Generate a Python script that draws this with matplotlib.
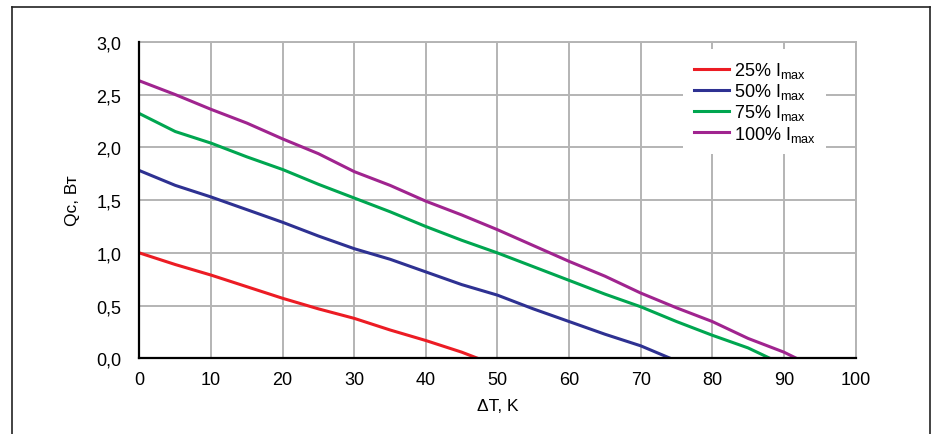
import matplotlib
matplotlib.use("Agg")
import matplotlib.pyplot as plt
from matplotlib.lines import Line2D

plt.rcParams["font.family"] = ["Liberation Sans", "DejaVu Sans"]
plt.rcParams["mathtext.fontset"] = "custom"
plt.rcParams["mathtext.rm"] = "Liberation Sans"

# values (dT in K, Qc in W)
dt_25 = [0, 5, 10, 15, 20, 25, 30, 35, 40, 45, 47.3]
qc_25 = [1.00, 0.89, 0.79, 0.68, 0.57, 0.47, 0.38, 0.27, 0.17, 0.06, 0.0]

dt_50 = [0, 5, 10, 15, 20, 25, 30, 35, 40, 45, 50, 55, 60, 65, 70, 74.2]
qc_50 = [1.78, 1.64, 1.53, 1.41, 1.29, 1.16, 1.04, 0.94, 0.82, 0.70, 0.60, 0.47, 0.35, 0.23, 0.12, 0.0]

dt_75 = [0, 5, 10, 15, 20, 25, 30, 35, 40, 45, 50, 55, 60, 65, 70, 75, 80, 85, 88.1]
qc_75 = [2.32, 2.15, 2.04, 1.91, 1.79, 1.65, 1.52, 1.39, 1.25, 1.12, 1.00, 0.87, 0.74, 0.61, 0.49, 0.35, 0.22, 0.10, 0.0]

dt_100 = [0, 5, 10, 15, 20, 25, 30, 35, 40, 45, 50, 55, 60, 65, 70, 75, 80, 85, 90, 91.8]
qc_100 = [2.63, 2.50, 2.36, 2.23, 2.08, 1.94, 1.77, 1.64, 1.49, 1.36, 1.22, 1.07, 0.92, 0.78, 0.62, 0.48, 0.35, 0.19, 0.06, 0.0]

series = [
    (dt_25, qc_25, "25% I$_{\\mathrm{max}}$", "#ec1c24"),
    (dt_50, qc_50, "50% I$_{\\mathrm{max}}$", "#2e3192"),
    (dt_75, qc_75, "75% I$_{\\mathrm{max}}$", "#00a650"),
    (dt_100, qc_100, "100% I$_{\\mathrm{max}}$", "#a0248f"),
]

x_ticks = list(range(0, 101, 10))
y_ticks = [0.0, 0.5, 1.0, 1.5, 2.0, 2.5, 3.0]

fig = plt.figure(figsize=(9.36, 4.35), dpi=100)
ax = fig.add_axes([0.149, 0.1736, 0.765, 0.728])

for xs, ys, lab, col in series:
    ax.plot(xs, ys, color=col, lw=2.2, label=lab, solid_joinstyle="round")

ax.set_xlim(0, 100)
ax.set_ylim(0, 3.0)
ax.set_xticks(x_ticks)
ax.set_yticks(y_ticks)
ax.set_yticklabels([f"{v:.1f}".replace(".", ",") for v in y_ticks])
ax.tick_params(length=0, labelsize=13, pad=9)
ax.tick_params(axis="y", pad=13)
ax.grid(True, color="#b4b4b4", lw=1.4)
ax.set_axisbelow(True)

for s in ["top", "right"]:
    ax.spines[s].set_color("#b4b4b4")
    ax.spines[s].set_linewidth(1.4)
for s in ["left", "bottom"]:
    ax.spines[s].set_color("black")
    ax.spines[s].set_linewidth(1.6)
    ax.spines[s].set_zorder(5)

ax.set_xlabel("ΔT, K", fontsize=12.5, labelpad=7)
ax.set_ylabel("Qc, Вт", fontsize=12.5, labelpad=12)

leg = ax.legend(loc="upper left", bbox_to_anchor=(683 / 936, 1 - 50 / 435),
                bbox_transform=fig.transFigure, borderaxespad=0, fontsize=13,
                frameon=True, framealpha=1, edgecolor="none", facecolor="white",
                handlelength=1.95, handletextpad=0.25, labelspacing=0.07,
                borderpad=0.6, fancybox=False)
leg.get_frame().set_linewidth(0)

# outer frame (left, top, right)
fx0, fx1, fy = 12 / 936, 930 / 936, 1 - 8 / 435
for xs, ys in [([fx0, fx0], [0, fy]), ([fx0, fx1], [fy, fy]), ([fx1, fx1], [fy, 0])]:
    fig.add_artist(Line2D(xs, ys, color="#222222", lw=1.2, transform=fig.transFigure))

fig.savefig("out.png", dpi=100)
